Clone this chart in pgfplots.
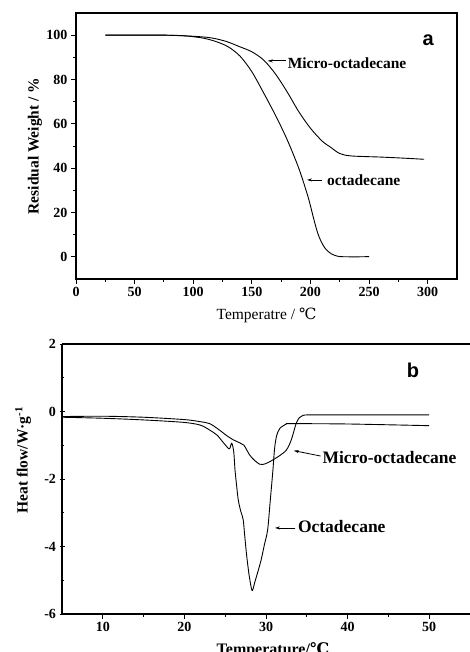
\documentclass[border=0pt]{standalone}
\usepackage{fontspec}
\setmainfont{Liberation Serif}
\newfontfamily\sansb{Liberation Sans}
\newfontfamily\dv{DejaVu Serif}
\usepackage{pgfplots}
\pgfplotsset{compat=1.18}
\usetikzlibrary{arrows.meta}

\newcommand{\degC}{{\dv ℃}}

\pgfplotsset{
  panel/.style={
    scale only axis,
    axis line style={line width=1.1pt},
    tick style={line width=0.9pt, black},
    major tick length=5pt,
    minor tick length=3pt,
    tick align=outside,
    minor tick num=1,
    tick label style={font=\fontsize{14}{16}\selectfont\bfseries},
    /pgf/number format/assume math mode=true,
    enlargelimits=false,
    clip=false,
  },
  curve/.style={black, line width=0.9pt, no markers, smooth, tension=0.5},
}

\begin{document}
\begin{tikzpicture}

% ---------- panel a : TGA ----------
\begin{axis}[
  panel,
  name=pa,
  at={(76pt,373pt)}, anchor=south west,
  width=381pt, height=266pt,
  xmin=0, xmax=325, ymin=-10, ymax=110,
  xtick={0,50,...,300}, ytick={0,20,...,100},
  xtick pos=bottom, ytick pos=left,
  xlabel={Temperatre / \degC},
  ylabel={\bfseries Residual Weight / \%},
  xlabel style={font=\fontsize{15.5}{18}\selectfont, at={(axis description cs:0.5,-0.135)}, anchor=center},
  ylabel style={font=\fontsize{15.5}{18}\selectfont, at={(axis description cs:-0.108,0.5)}, anchor=center},
]
% octadecane
\addplot[curve] coordinates {
 (25,100) (50,100) (75,100) (90,99.8) (100,99.3) (110,98.5) (120,97)
 (130,94.7) (140,90.5) (150,83.5) (160,74) (170,64) (180,53) (190,40)
 (197,28.7) (200,23) (203,16.7) (206,11) (209,7) (213,3.5) (218,1.3)
 (223,0.3) (228,0.05) (240,0) (250,0.1)};
% micro-octadecane
\addplot[curve] coordinates {
 (25,100) (50,100) (75,100) (100,99.5) (115,98.8) (128,97.2) (140,94.7)
 (150,92.5) (160,88.8) (170,82.6) (180,74.5) (190,65.5) (200,58)
 (210,52.2) (217,49.5) (225,46.6) (235,45.5) (260,45) (280,44.5) (297,44)};
\draw[-{Stealth[length=5pt,width=3pt]}, line width=0.8pt] (axis cs:179.5,88.4) -- (axis cs:163.5,88.4);
\node[anchor=west, inner sep=0pt, font=\fontsize{15.5}{18}\selectfont\bfseries] at (axis cs:180.5,87.2) {Micro-octadecane};
\draw[-{Stealth[length=5pt,width=3pt]}, line width=0.8pt] (axis cs:210,34.7) -- (axis cs:197,34.7);
\node[anchor=west, inner sep=0pt, font=\fontsize{15.5}{18}\selectfont\bfseries] at (axis cs:214,34.7) {octadecane};
\node[font=\fontsize{20}{24}\selectfont\sansb\bfseries] at (axis cs:300.5,97.7) {a};
\end{axis}

% ---------- panel b : DSC ----------
\begin{axis}[
  panel,
  name=pb,
  at={(62pt,38pt)}, anchor=south west,
  width=408pt, height=270pt,
  xmin=5, xmax=55, ymin=-6, ymax=2,
  xtick={10,20,...,50}, ytick={-6,-4,...,2},
  axis x line=box, axis y line=left,
  x axis line style={-}, y axis line style={-},
  xtick pos=bottom, ytick pos=left,
  xlabel={\bfseries Temperature/\degC},
  ylabel={\bfseries Heat flow/W·g\textsuperscript{-1}},
  xlabel style={font=\fontsize{16}{19}\selectfont, at={(axis description cs:0.517,-0.093)}, anchor=north},
  ylabel style={font=\fontsize{15.5}{18}\selectfont, at={(axis description cs:-0.095,0.57)}, anchor=center},
]
% micro-octadecane
\addplot[curve] coordinates {
 (5,-0.15) (10,-0.14) (15,-0.17) (20,-0.24) (21.9,-0.30) (23.1,-0.36)
 (24.3,-0.55) (25.1,-0.7) (26,-0.84) (26.8,-0.93) (27.3,-1.0) (28,-1.29)
 (28.6,-1.45) (29.2,-1.56) (29.6,-1.57) (30.2,-1.52) (30.8,-1.44)
 (31.6,-1.32) (32.5,-1.14) (33.1,-0.84) (33.7,-0.35) (34.1,-0.18)
 (34.5,-0.12) (35.3,-0.1) (40,-0.1) (50,-0.1)};
% octadecane
\addplot[curve] coordinates {
 (5,-0.17) (10,-0.2) (15,-0.25) (19.8,-0.32) (21.9,-0.4) (23.1,-0.55)
 (24,-0.7) (24.7,-0.9) (25.3,-1.07) (25.55,-1.1) (25.8,-0.94) (26.05,-1.2)
 (26.2,-1.73) (26.4,-2.2) (26.6,-2.62) (26.9,-2.95) (27.2,-3.2) (27.4,-3.7)
 (27.6,-4.2) (27.9,-4.8) (28.2,-5.23) (28.35,-5.3) (28.6,-5.08) (29.0,-4.75)
 (29.4,-4.4) (29.8,-3.95) (30.2,-3.51) (30.5,-2.7) (30.85,-1.73)
 (31.05,-1.1) (31.3,-0.72) (31.7,-0.5) (32.5,-0.37) (33,-0.36) (40,-0.37)
 (50,-0.42)};
\draw[-{Stealth[length=5pt,width=3pt]}, line width=0.8pt] (axis cs:36.7,-1.32) -- (axis cs:33.4,-1.16);
\node[anchor=west, inner sep=0pt, font=\fontsize{17.5}{20}\selectfont\bfseries] at (axis cs:36.9,-1.36) {Micro-octadecane};
\draw[-{Stealth[length=5pt,width=3pt]}, line width=0.8pt] (axis cs:33.6,-3.45) -- (axis cs:31.1,-3.45);
\node[anchor=west, inner sep=0pt, font=\fontsize{17.5}{20}\selectfont\bfseries] at (axis cs:33.9,-3.42) {Octadecane};
\node[font=\fontsize{20}{24}\selectfont\sansb\bfseries] at (axis cs:48,1.23) {b};
\end{axis}

\pgfresetboundingbox
\path[use as bounding box] (0pt,0pt) rectangle (470pt,652pt);
\end{tikzpicture}
\end{document}
